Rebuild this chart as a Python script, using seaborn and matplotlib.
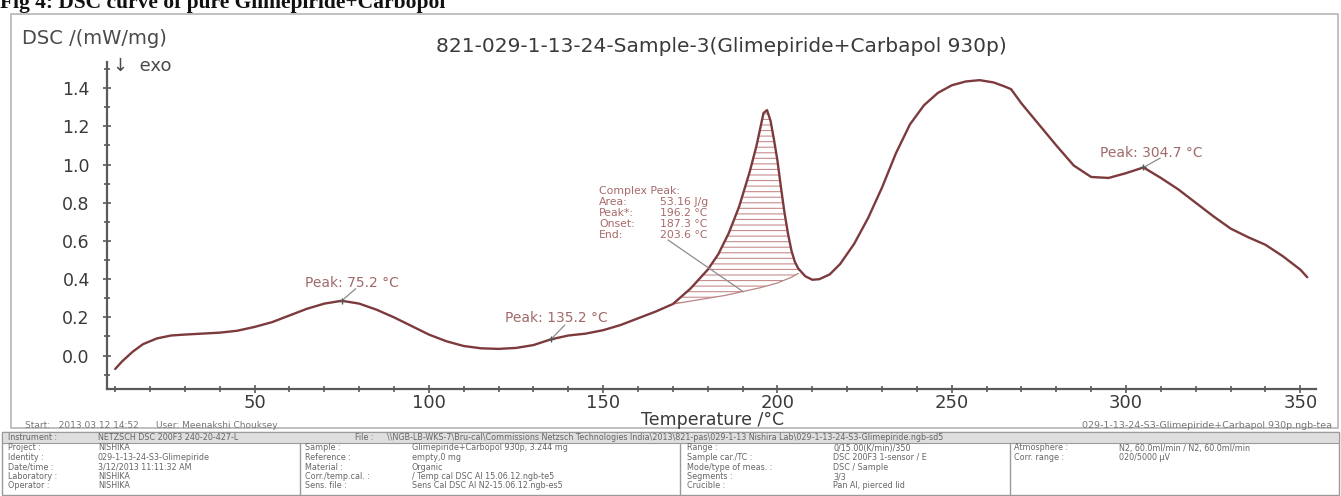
import numpy as np
import pandas as pd
import matplotlib
matplotlib.use("Agg")
import matplotlib.pyplot as plt
from matplotlib.patches import Rectangle
from matplotlib.ticker import MultipleLocator
import seaborn as sns

# ---------------- data ----------------
temperature = [10, 12, 15, 18, 22, 26, 30, 35, 40, 45, 50, 55, 60, 65, 70, 75,
               80, 85, 90, 95, 100, 105, 110, 115, 120, 125, 130, 135, 140, 145,
               150, 155, 160, 165, 170, 175, 180, 183, 186, 189, 192, 194, 196,
               197, 198, 199, 200, 201, 202, 203, 204, 205, 206, 208, 210, 212,
               215, 218, 222, 226, 230, 234, 238, 242, 246, 250, 254, 258, 262,
               265, 267, 270, 275, 280, 285, 290, 295, 300, 305, 310, 315, 320,
               325, 330, 335, 340, 345, 350, 352]
dsc = [-0.07, -0.03, 0.02, 0.06, 0.09, 0.105, 0.11, 0.115, 0.12, 0.13, 0.15,
       0.175, 0.21, 0.245, 0.272, 0.287, 0.272, 0.24, 0.20, 0.155, 0.11, 0.075,
       0.05, 0.038, 0.035, 0.04, 0.055, 0.085, 0.105, 0.115, 0.133, 0.16, 0.195,
       0.23, 0.27, 0.35, 0.45, 0.53, 0.64, 0.78, 0.96, 1.10, 1.27, 1.285, 1.23,
       1.13, 1.02, 0.88, 0.75, 0.64, 0.55, 0.49, 0.455, 0.415, 0.397, 0.40,
       0.425, 0.48, 0.585, 0.72, 0.88, 1.06, 1.21, 1.31, 1.375, 1.415, 1.435,
       1.442, 1.43, 1.41, 1.395, 1.32, 1.21, 1.10, 0.995, 0.935, 0.93, 0.955,
       0.985, 0.93, 0.87, 0.80, 0.73, 0.665, 0.62, 0.58, 0.52, 0.45, 0.41]

# integration baseline of the complex peak
baseline_temp = [170, 175, 180, 185, 190, 195, 200, 204, 206]
baseline_val = [0.27, 0.285, 0.30, 0.315, 0.335, 0.355, 0.38, 0.41, 0.43]

peak_labels = ["Peak: 75.2 °C", "Peak: 135.2 °C", "Peak: 304.7 °C"]
peak_temp = [75, 135, 305]
peak_val = [0.287, 0.085, 0.985]

complex_title = "Complex Peak:"
complex_keys = ["Area:", "Peak*:", "Onset:", "End:"]
complex_vals = ["53.16 J/g", "196.2 °C", "187.3 °C", "203.6 °C"]

y_ticks = [0.0, 0.2, 0.4, 0.6, 0.8, 1.0, 1.2, 1.4]
x_ticks = [50, 100, 150, 200, 250, 300, 350]

table_header = [("Instrument :", "NETZSCH DSC 200F3 240-20-427-L"),
                ("File :", "\\\\NGB-LB-WKS-7\\Bru-cal\\Commissions Netzsch Technologies India\\2013\\821-pas"
                           "\\029-1-13 Nishira Lab\\029-1-13-24-S3-Glimepiride.ngb-sd5")]
table_col1 = [("Project :", "NISHIKA"), ("Identity :", "029-1-13-24-S3-Glimepiride"),
              ("Date/time :", "3/12/2013 11:11:32 AM"), ("Laboratory :", "NISHIKA"),
              ("Operator :", "NISHIKA")]
table_col2 = [("Sample :", "Glimepiride+Carbopol 930p, 3.244 mg"), ("Reference :", "empty,0 mg"),
              ("Material :", "Organic"), ("Corr./temp.cal. :", "/ Temp cal DSC Al 15.06.12.ngb-te5"),
              ("Sens. file :", "Sens Cal DSC Al N2-15.06.12.ngb-es5")]
table_col3 = [("Range :", "0/15.00(K/min)/350"), ("Sample car./TC :", "DSC 200F3 1-sensor / E"),
              ("Mode/type of meas. :", "DSC / Sample"), ("Segments :", "3/3"),
              ("Crucible :", "Pan Al, pierced lid")]
table_col4 = [("Atmosphere :", "N2, 60.0ml/min / N2, 60.0ml/min"), ("Corr. range :", "020/5000 µV")]

# ---------------- style ----------------
sns.set_theme(style="white")
plt.rcParams["font.family"] = ["DejaVu Sans"]

W, H = 1341, 496
fig = plt.figure(figsize=(W / 100, H / 100), dpi=100)

def fx(px):
    return px / W

def fy(py):
    return 1 - py / H

ax = fig.add_axes([fx(106.5), fy(389), fx(1316) - fx(106.5), fy(62) - fy(389)])

curve_color = "#7d3a3d"
df = pd.DataFrame({"Temperature": temperature, "DSC": dsc})

# hatched complex-peak area (drawn first, under the curve)
plt.rcParams["hatch.linewidth"] = 0.8
poly_x = [t for t in temperature if 170 <= t <= 206] + baseline_temp[::-1]
poly_y = [v for t, v in zip(temperature, dsc) if 170 <= t <= 206] + baseline_val[::-1]
ax.fill(poly_x, poly_y, facecolor="none", edgecolor="#c78c8c", hatch="---", lw=0)
ax.plot(baseline_temp, baseline_val, color="#b98585", lw=0.9)

sns.lineplot(data=df, x="Temperature", y="DSC", ax=ax, color=curve_color,
             lw=1.7, sort=False, estimator=None)

ax.set_xlim(7.5, 354.5)
ax.set_ylim(-0.175, 1.537)
ax.set_xlabel("")
ax.set_ylabel("")
for s in ["top", "right"]:
    ax.spines[s].set_visible(False)
for s in ["left", "bottom"]:
    ax.spines[s].set_color("#5a5a5a")
    ax.spines[s].set_linewidth(1.6)

ax.set_xticks(x_ticks)
ax.set_yticks(y_ticks)
ax.set_yticklabels([f"{v:.1f}" for v in y_ticks])
ax.xaxis.set_minor_locator(MultipleLocator(10))
ax.yaxis.set_minor_locator(MultipleLocator(0.1))
ax.tick_params(axis="both", which="both", direction="inout", color="#5a5a5a",
               bottom=True, left=True, width=1.2)
ax.tick_params(axis="both", which="major", length=6)
ax.tick_params(axis="both", which="minor", length=4)
ax.tick_params(axis="x", labelsize=13, labelcolor="#3a3a3a", pad=0.5)
ax.tick_params(axis="y", labelsize=12.5, labelcolor="#3a3a3a", pad=9)
ax.grid(False)

# peak annotations
peak_text_pos = [(64.4, 0.38), (121.8, 0.196), (292.5, 1.06)]
peak_line_end = [(79.0, 0.35), (139.0, 0.16), (309.8, 1.034)]
for lab, t, v, (tx, ty), (lx, ly) in zip(peak_labels, peak_temp, peak_val,
                                         peak_text_pos, peak_line_end):
    ax.plot([t, lx], [v, ly], color="#8c8c8c", lw=0.9)
    ax.plot([t], [v], marker="+", ms=4, color="#555555", mew=1)
    ax.text(tx, ty, lab, fontsize=10, color="#a06a6a", va="center", ha="left")

# complex peak block
top_v = 0.861
gap_v = 0.0576
cfs = 7.8
ax.text(148.8, top_v, complex_title, fontsize=cfs, color="#a86a6a", va="center", ha="left")
for i, (k, v) in enumerate(zip(complex_keys, complex_vals)):
    yy = top_v - (i + 1) * gap_v
    ax.text(148.8, yy, k, fontsize=cfs, color="#a86a6a", va="center", ha="left")
    ax.text(166.3, yy, v, fontsize=cfs, color="#a86a6a", va="center", ha="left")
ax.plot([168.6, 190.2], [0.605, 0.334], color="#8c8c8c", lw=0.9)

# ---------------- surrounding texts ----------------
fig.text(fx(0), fy(8), "Fig 4: DSC curve of pure Glimepiride+Carbopol",
         fontsize=15.5, fontweight="bold", family=["Liberation Serif"],
         va="baseline", ha="left", color="#111111")
fig.patches.append(Rectangle((fx(11), fy(428)), fx(1338) - fx(11), fy(14) - fy(428),
                             transform=fig.transFigure, fill=False,
                             edgecolor="#b5b5b5", lw=1.2))
fig.text(fx(22), fy(38), "DSC /(mW/mg)", fontsize=14, color="#4a4a4a", va="center", ha="left")
fig.text(fx(113), fy(66), "↓  exo", fontsize=13, color="#4a4a4a", va="center", ha="left")
fig.text(fx(721), fy(47), "821-029-1-13-24-Sample-3(Glimepiride+Carbapol 930p)",
         fontsize=14.5, color="#3a3a3a", va="center", ha="center")
fig.text(fx(713), fy(420), "Temperature /°C", fontsize=12.5, color="#3a3a3a",
         va="center", ha="center")
fig.text(fx(25), fy(425), "Start:   2013.03.12 14:52      User: Meenakshi Chouksey",
         fontsize=6.5, color="#777777", va="center", ha="left")
fig.text(fx(1332), fy(425), "029-1-13-24-S3-Glimepiride+Carbapol 930p.ngb-tea",
         fontsize=6.8, color="#777777", va="center", ha="right")

# ---------------- info table ----------------
tfs = 5.8
tcol = "#666666"
fig.patches.append(Rectangle((fx(2), fy(495)), fx(1339) - fx(2), fy(432) - fy(495),
                             transform=fig.transFigure, fill=False,
                             edgecolor="#9a9a9a", lw=1.0))
fig.patches.append(Rectangle((fx(2), fy(443)), fx(1339) - fx(2), fy(432) - fy(443),
                             transform=fig.transFigure, facecolor="#dedede",
                             edgecolor="#9a9a9a", lw=0.8))
for (k, v), (lx, vx) in zip(table_header, [(8, 98), (355, 387)]):
    fig.text(fx(lx), fy(438), k, fontsize=tfs, color=tcol, va="center", ha="left")
    fig.text(fx(vx), fy(438), v, fontsize=tfs, color=tcol, va="center", ha="left")
for xd in [300, 680, 1010]:
    fig.add_artist(plt.Line2D([fx(xd), fx(xd)], [fy(444), fy(495)],
                              transform=fig.transFigure, color="#9a9a9a", lw=1.0))
row_y = [448, 457.5, 467, 476.5, 486]
for col, lx, vx in [(table_col1, 8, 98), (table_col2, 305, 412),
                    (table_col3, 687, 833), (table_col4, 1014, 1119)]:
    for (k, v), yy in zip(col, row_y):
        fig.text(fx(lx), fy(yy), k, fontsize=tfs, color=tcol, va="center", ha="left")
        fig.text(fx(vx), fy(yy), v, fontsize=tfs, color=tcol, va="center", ha="left")

fig.savefig("out.png", dpi=100)
